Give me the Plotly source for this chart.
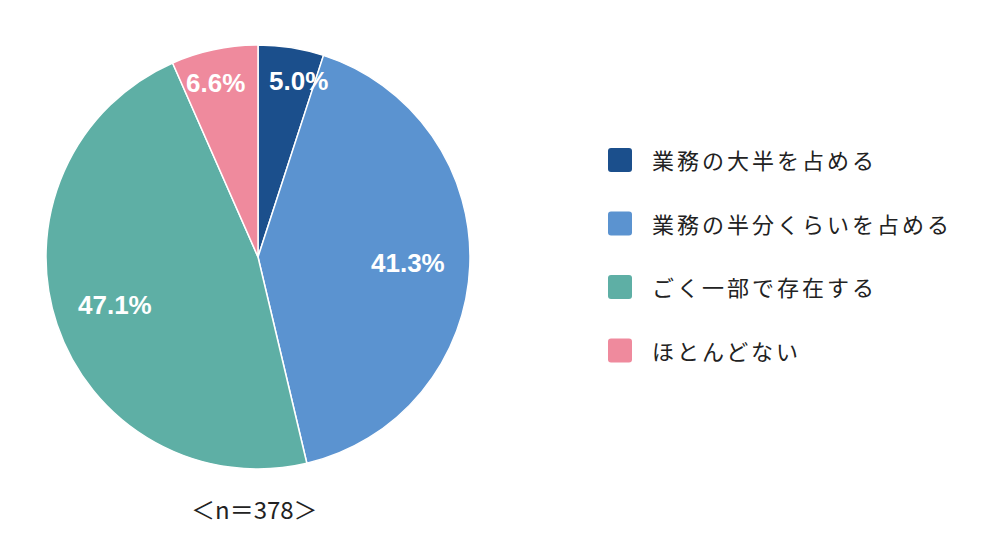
import math
import plotly.graph_objects as go

# data
labels = ["業務の大半を占める", "業務の半分くらいを占める", "ごく一部で存在する", "ほとんどない"]
values = [5.0, 41.3, 47.1, 6.6]
colors = ["#1b4f8c", "#5b93d0", "#5eafa5", "#ef8a9d"]
caption = "＜n＝378＞"

W, H = 1000, 545
cx, cy, R = 258, 257, 212  # pie centre / radius in pixels

fig = go.Figure()

fig.add_trace(go.Pie(
    labels=labels,
    values=values,
    sort=False,
    direction="clockwise",
    rotation=0,
    marker=dict(colors=colors, line=dict(color="white", width=1.5)),
    textinfo="none",
    hoverinfo="label+percent",
    showlegend=False,
    domain=dict(x=[(cx - R) / W, (cx + R) / W], y=[1 - (cy + R) / H, 1 - (cy - R) / H]),
))

# percent labels placed on the slice mid-angles
total = sum(values)
cum = 0
for v in values:
    mid = (cum + v / 2) / total * 2 * math.pi
    cum += v
    rf = 0.84 if v < 10 else 0.71
    px_ = cx + rf * R * math.sin(mid)
    py_ = cy - rf * R * math.cos(mid)
    if v < 10:
        px_ += 13 if math.sin(mid) > 0 else -6
    fig.add_annotation(
        x=px_ / W, y=1 - py_ / H, xref="paper", yref="paper",
        text=f"{v:.1f}%", showarrow=False,
        font=dict(size=26, color="white", family="Liberation Sans", weight="bold"),
        xanchor="center", yanchor="middle",
    )

# custom legend with rounded squares
lx, ly0, step, sz = 608, 160, 63.5, 24
for i, (lab, col) in enumerate(zip(labels, colors)):
    yc = ly0 + i * step
    x0, x1, y0, y1 = lx, lx + sz, yc - sz / 2, yc + sz / 2
    r = 3
    path = (f"M{x0+r},{y0} L{x1-r},{y0} Q{x1},{y0} {x1},{y0+r} L{x1},{y1-r} Q{x1},{y1} {x1-r},{y1} "
            f"L{x0+r},{y1} Q{x0},{y1} {x0},{y1-r} L{x0},{y0+r} Q{x0},{y0} {x0+r},{y0} Z")
    fig.add_shape(type="path", path=path, xref="x", yref="y",
                  fillcolor=col, line=dict(width=0))
    fig.add_annotation(
        x=650, y=yc - 1, xref="x", yref="y",
        text=f'<span style="letter-spacing:3px">{lab}</span>', showarrow=False,
        xanchor="left", yanchor="middle",
        font=dict(size=22, color="#222222", family="Noto Sans CJK JP"),
    )

fig.add_annotation(
    x=254, y=508, xref="x", yref="y", text=caption, showarrow=False,
    xanchor="center", yanchor="middle",
    font=dict(size=24, color="#222222", family="Noto Sans CJK JP"),
)

fig.update_layout(
    width=W, height=H,
    margin=dict(l=0, r=0, t=0, b=0),
    paper_bgcolor="white", plot_bgcolor="white",
    xaxis=dict(range=[0, W], visible=False, fixedrange=True),
    yaxis=dict(range=[H, 0], visible=False, fixedrange=True),
)

fig.write_html("out.html", config={"displayModeBar": False},
               post_script="document.body.style.margin='0';")
